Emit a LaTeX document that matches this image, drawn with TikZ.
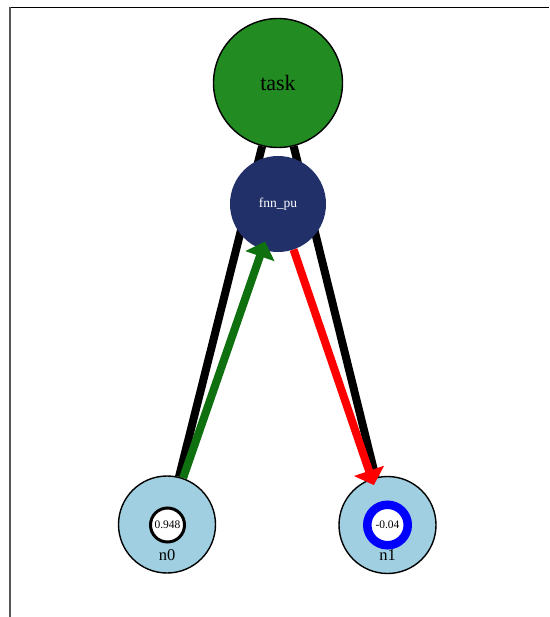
\documentclass[tikz,border=0pt]{standalone}
\usepackage{fontspec}
\setmainfont{Liberation Serif}
\usetikzlibrary{arrows.meta}
\definecolor{taskgreen}{HTML}{228B22}
\definecolor{fnnblue}{HTML}{22306A}
\definecolor{leafblue}{HTML}{9FCFE0}
\definecolor{arrowgreen}{HTML}{0E700E}
\definecolor{framegray}{HTML}{555555}
\begin{document}
\begin{tikzpicture}[x=1pt,y=-1pt,
  tasknode/.style={circle, draw=black, line width=1.4pt, fill=taskgreen, minimum size=129pt, inner sep=0pt, font=\fontsize{22}{25}\selectfont},
  fnnnode/.style={circle, draw=none, fill=fnnblue, minimum size=96pt, inner sep=0pt, text=white, font=\fontsize{13.5}{15}\selectfont},
  leafnode/.style={circle, draw=black, line width=1.4pt, fill=leafblue, minimum size=97pt, inner sep=0pt},
  valblack/.style={circle, draw=black, line width=3pt, fill=white, minimum size=34pt, inner sep=0pt, font=\fontsize{11.5}{13}\selectfont},
  valblue/.style={circle, draw=blue, line width=8.5pt, fill=white, minimum size=40.5pt, inner sep=0pt, font=\fontsize{11.5}{13}\selectfont},
  leaflabel/.style={inner sep=0pt, font=\fontsize{16.5}{18}\selectfont},
  blackedge/.style={draw=black, line width=8pt},
  greenarrow/.style={draw=arrowgreen, line width=8pt, -{Triangle[length=15.5pt,width=30pt]}},
  redarrow/.style={draw=red, line width=8pt, -{Triangle[length=15pt,width=31pt]}}
]
\useasboundingbox (0,0) rectangle (549,617);
\fill[white] (0,0) rectangle (549,617);
% frame
\draw[black, line width=1.5pt] (9.3,7.5) -- (549,7.5);
\draw[framegray, line width=1.5pt] (10,7.5) -- (10,617);

\node[tasknode] (task) at (278,83) {task};
\node[leafnode] (n0) at (167,524.5) {};
\node[leafnode] (n1) at (387.5,525) {};

\draw[blackedge] (task) -- (n0);
\draw[blackedge] (task) -- (n1);

\node[fnnnode] (fnn) at (278,204) {fnn\_pu};

\node[valblack] (v0) at (167.5,525) {0.948};
\node[valblue] (v1) at (387.5,525) {-0.04};
\node[leaflabel] (l0) at (167,555) {n0};
\node[leaflabel] (l1) at (387.5,555) {n1};

\draw[greenarrow, shorten >=-8.5pt] (n0) -- (fnn);
\draw[redarrow, shorten >=-7pt] (fnn) -- (n1);
\end{tikzpicture}
\end{document}
